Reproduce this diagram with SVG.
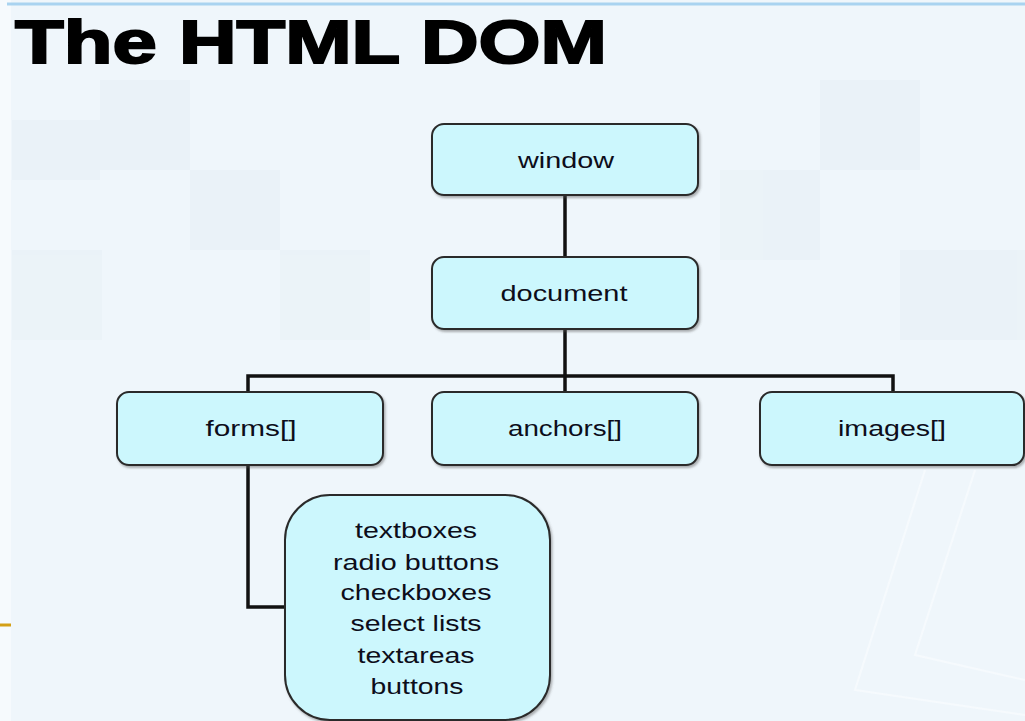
<svg xmlns="http://www.w3.org/2000/svg" width="1025" height="721" viewBox="0 0 1025 721">
<defs>
<style>
.box{fill:#ccf7fd;stroke:#2b2b2b;stroke-width:2}
.lbl{font-family:"Liberation Sans",Arial,sans-serif;font-size:22px;fill:#0d0d1a;text-anchor:middle}
.con{fill:none;stroke:#111;stroke-width:3.5}
.bgsq{fill:#e7eff6}
</style>
<filter id="sh" x="-5%" y="-5%" width="115%" height="120%">
<feDropShadow dx="1.5" dy="2" stdDeviation="1" flood-color="#555" flood-opacity="0.45"/>
</filter>
</defs>
<rect width="1025" height="721" fill="#eff6fb"/>
<rect x="0" y="0" width="11" height="721" fill="#f6fafd"/>
<g opacity="0.5">
<rect class="bgsq" x="100" y="80" width="90" height="90"/>
<rect class="bgsq" x="190" y="170" width="90" height="80"/>
<rect class="bgsq" x="12" y="250" width="90" height="90"/>
<rect class="bgsq" x="280" y="250" width="90" height="90"/>
<rect class="bgsq" x="720" y="170" width="100" height="90"/>
<rect class="bgsq" x="820" y="80" width="100" height="90"/>
<rect class="bgsq" x="900" y="250" width="125" height="90"/>
<rect class="bgsq" x="12" y="120" width="88" height="60"/>
</g>
<g fill="none" stroke="#f7fbfe" stroke-width="2" opacity="0.9">
<path d="M925 470 L855 690 L1025 715"/>
<path d="M975 470 L915 655 L1025 680"/>
</g>
<line x1="7" y1="4" x2="1025" y2="4" stroke="#a9d3f0" stroke-width="3"/>
<line x1="0" y1="625" x2="11" y2="625" stroke="#d4a017" stroke-width="3"/>
<text x="15" y="63" font-family="Liberation Sans,Arial,sans-serif" font-weight="bold" font-size="62" fill="#000" stroke="#000" stroke-width="2" textLength="592" lengthAdjust="spacingAndGlyphs">The HTML DOM</text>
<g id="connectors">
<path class="con" d="M565 195 V257"/>
<path class="con" d="M565 329 V392"/>
<path class="con" d="M248 392 V376 H893 V392"/>
<path class="con" d="M248 465 V607 H285"/>
</g>
<g id="window">
<rect class="box" filter="url(#sh)" x="432" y="124" width="266" height="71" rx="12"/>
<text class="lbl" x="566" y="168" textLength="96" lengthAdjust="spacingAndGlyphs">window</text>
</g>
<g id="document">
<rect class="box" filter="url(#sh)" x="432" y="257" width="266" height="72" rx="12"/>
<text class="lbl" x="564" y="301" textLength="127" lengthAdjust="spacingAndGlyphs">document</text>
</g>
<g id="forms">
<rect class="box" filter="url(#sh)" x="117" y="392" width="266" height="73" rx="12"/>
<text class="lbl" x="251" y="436" textLength="91" lengthAdjust="spacingAndGlyphs">forms[]</text>
</g>
<g id="anchors">
<rect class="box" filter="url(#sh)" x="432" y="392" width="266" height="73" rx="12"/>
<text class="lbl" x="565" y="436" textLength="114" lengthAdjust="spacingAndGlyphs">anchors[]</text>
</g>
<g id="images">
<rect class="box" filter="url(#sh)" x="760" y="392" width="264" height="73" rx="12"/>
<text class="lbl" x="892" y="436" textLength="108" lengthAdjust="spacingAndGlyphs">images[]</text>
</g>
<g id="form-elements">
<rect class="box" filter="url(#sh)" x="285" y="495" width="265" height="225" rx="45"/>
<text class="lbl" x="416" y="538" textLength="122" lengthAdjust="spacingAndGlyphs">textboxes</text>
<text class="lbl" x="416" y="570" textLength="166" lengthAdjust="spacingAndGlyphs">radio buttons</text>
<text class="lbl" x="416" y="600" textLength="151" lengthAdjust="spacingAndGlyphs">checkboxes</text>
<text class="lbl" x="416" y="631" textLength="131" lengthAdjust="spacingAndGlyphs">select lists</text>
<text class="lbl" x="416" y="663" textLength="117" lengthAdjust="spacingAndGlyphs">textareas</text>
<text class="lbl" x="417" y="694" textLength="93" lengthAdjust="spacingAndGlyphs">buttons</text>
</g>
</svg>
